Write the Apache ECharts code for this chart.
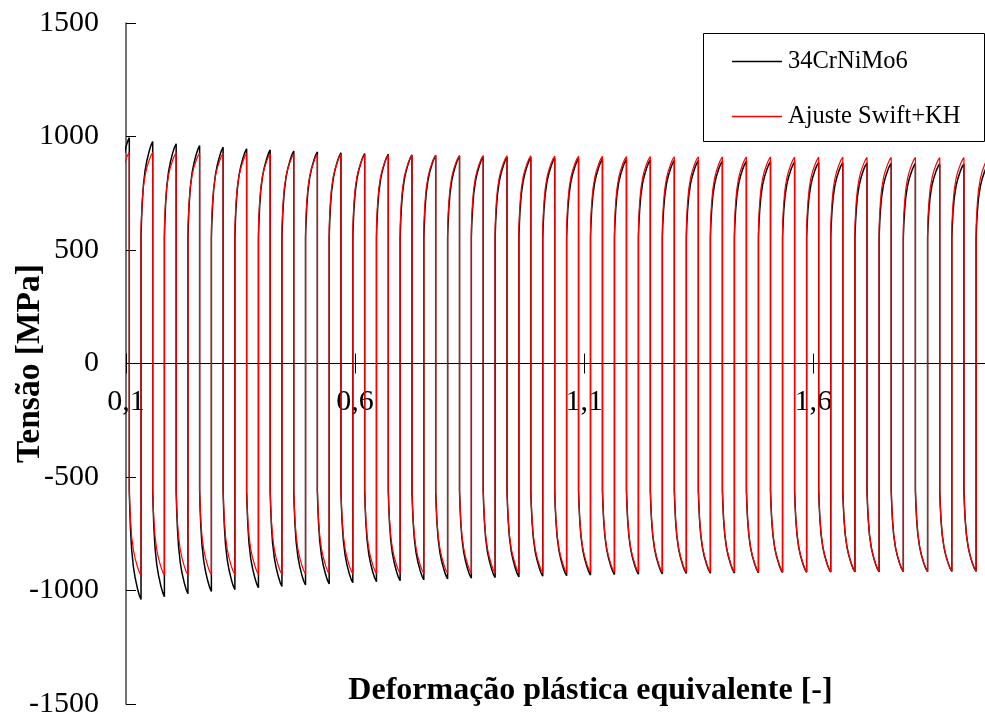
<!DOCTYPE html>
<html>
<head>
<meta charset="utf-8">
<title>Tensão vs deformação plástica equivalente</title>
<script src="https://cdn.jsdelivr.net/npm/echarts@6.0.0/dist/echarts.min.js"></script>
<style>
  html, body { margin: 0; padding: 0; background: #fff; }
  #chart { width: 985px; height: 717px; }
</style>
</head>
<body>
<div id="chart"></div>
<script>
// Series names (legend)
const seriesNames = ['34CrNiMo6', 'Ajuste Swift+KH'];

// Axis ticks
const xTicks = [0.1, 0.6, 1.1, 1.6];
const yTicks = [-1500, -1000, -500, 0, 500, 1000, 1500];

// Accumulated plastic strain at each load reversal (valley, peak, valley, peak, ...)
const reversalStrain = [
  0.0817, 0.1072, 0.1328, 0.1583, 0.1838, 0.2095, 0.2352, 0.2607, 0.2864, 0.3120,
  0.3377, 0.3633, 0.3891, 0.4147, 0.4404, 0.4662, 0.4919, 0.5177, 0.5435, 0.5692,
  0.5951, 0.6210, 0.6467, 0.6725, 0.6984, 0.7242, 0.7501, 0.7760, 0.8020, 0.8280,
  0.8538, 0.8797, 0.9057, 0.9317, 0.9576, 0.9836, 1.0097, 1.0358, 1.0618, 1.0878,
  1.1139, 1.1400, 1.1662, 1.1924, 1.2185, 1.2445, 1.2707, 1.2969, 1.3231, 1.3493,
  1.3756, 1.4018, 1.4280, 1.4542, 1.4805, 1.5068, 1.5331, 1.5594, 1.5857, 1.6120,
  1.6383, 1.6646, 1.6911, 1.7175, 1.7439, 1.7703, 1.7967, 1.8231, 1.8497, 1.8762,
  1.9026, 1.9290, 1.9556, 1.9821
];

// 34CrNiMo6 measured: tensile peaks and compressive valleys per cycle [MPa]
const testPeak = [
  995, 978, 968, 960, 953, 946, 941, 936, 932, 928,
  925, 922, 919, 916, 913, 911, 909, 907, 905, 903,
  901, 899, 897, 895, 894, 892, 891, 889, 888, 886,
  885, 884, 882, 881, 880, 879, 878
];
const testValley = [
  -1050, -1040, -1027, -1014, -1004, -996, -988, -982, -976, -971,
  -966, -961, -957, -953, -949, -946, -943, -940, -937, -935,
  -932, -930, -928, -927, -925, -924, -923, -922, -921, -920,
  -919, -918, -918, -917, -917, -916, -916
];
// Stress where plastic flow resumes after each reversal [MPa]
const testYieldUp = 555;
const testYieldDown = -560;

// Swift + kinematic hardening fit: peaks and valleys per cycle [MPa]
const fitPeak = [
  930, 929, 928, 927, 926, 925, 924, 923, 922, 921,
  920, 919, 918, 918, 917, 916, 915, 915, 914, 913,
  913, 912, 912, 911, 911, 910, 910, 910, 909, 909,
  909, 908, 908, 908, 907, 907, 907
];
const fitValley = [
  -935, -934, -933, -932, -931, -930, -929, -929, -928, -927,
  -927, -926, -925, -925, -924, -924, -923, -923, -922, -922,
  -921, -921, -920, -920, -920, -919, -919, -919, -918, -918,
  -918, -917, -917, -917, -916, -916, -916
];
const fitYieldUp = 600;
const fitYieldDown = -560;

// Shape of a plastic branch: fraction of the half-cycle strain vs fraction of the stress rise
const branchStrain = [0, 0.04, 0.1, 0.2, 0.35, 0.5, 0.7, 0.85, 1];
const branchStress = [0, 0.17, 0.35, 0.54, 0.70, 0.80, 0.90, 0.96, 1];

function buildLoops(peaks, valleys, yieldUp, yieldDown) {
  const pts = [];
  const extreme = j => (j % 2 === 0 ? valleys[j / 2] : peaks[(j - 1) / 2]);
  for (let j = 0; j < reversalStrain.length - 1; j++) {
    const x0 = reversalStrain[j], x1 = reversalStrain[j + 1];
    const y0 = extreme(j), y1 = extreme(j + 1);
    const start = j % 2 === 0 ? yieldUp : yieldDown;
    pts.push([x0, y0]);            // elastic unloading: vertical in plastic strain
    pts.push([x0, start]);
    for (let k = 1; k < branchStrain.length; k++) {
      pts.push([x0 + branchStrain[k] * (x1 - x0), start + branchStress[k] * (y1 - start)]);
    }
  }
  return pts;
}

const testData = buildLoops(testPeak, testValley, testYieldUp, testYieldDown);
const fitData = buildLoops(fitPeak, fitValley, fitYieldUp, fitYieldDown);

const serif = '"Liberation Serif", "Times New Roman", serif';
const gridTop = 23, gridBottom = 13, chartH = 717;
// distance from the plot's lower/upper edge to the stress = 0 line
const zeroShift = (chartH - gridTop - gridBottom) / 2;

const chart = echarts.init(document.getElementById('chart'), null, { renderer: 'canvas' });

chart.setOption({
  animation: false,
  backgroundColor: '#ffffff',
  grid: { left: 126, right: 0, top: gridTop, bottom: gridBottom, containLabel: false, outerBoundsMode: 'none' },
  legend: {
    orient: 'vertical',
    left: 732,
    top: 49,
    padding: 0,
    icon: 'rect',
    itemWidth: 50,
    itemHeight: 1.3,
    itemGap: 30,
    data: seriesNames,
    textStyle: { fontFamily: serif, fontSize: 24.5, color: '#000', padding: [0, 0, 0, 1] }
  },
  graphic: [{
    type: 'rect',
    shape: { x: 703.5, y: 33.5, width: 281, height: 108 },
    style: { fill: 'none', stroke: '#000', lineWidth: 1 },
    z: 10
  }],
  xAxis: [{
    type: 'value',
    min: 0.1,
    max: 1.975,
    position: 'bottom',
    offset: -zeroShift,
    axisLine: { onZero: false, lineStyle: { color: '#000', width: 1 } },
    axisTick: { show: true, inside: false, length: 10, customValues: xTicks, lineStyle: { color: '#000' } },
    axisLabel: {
      customValues: xTicks,
      margin: 24,
      fontFamily: serif, fontSize: 30, color: '#000',
      formatter: v => String(v).replace('.', ',')
    },
    splitLine: { show: false },
    name: 'Deformação plástica equivalente [-]',
    nameLocation: 'middle',
    nameGap: 311,
    nameMoveOverlap: false,
    nameTextStyle: { fontFamily: serif, fontSize: 32, fontWeight: 'bold', color: '#000', padding: [0, 0, 0, 70] }
  }, {
    type: 'value',
    min: 0.1,
    max: 1.975,
    position: 'top',
    offset: -zeroShift,
    axisLine: { show: false, onZero: false },
    axisTick: { show: true, inside: false, length: 10, customValues: xTicks, lineStyle: { color: '#000' } },
    axisLabel: { show: false },
    splitLine: { show: false }
  }],
  yAxis: {
    type: 'value',
    min: -1500,
    max: 1500,
    interval: 500,
    axisLine: { show: true, onZero: false, lineStyle: { color: '#444', width: 1.5 } },
    axisTick: { show: true, inside: true, length: 10, lineStyle: { color: '#000' } },
    axisLabel: {
      margin: 27, fontFamily: serif, fontSize: 30, color: '#000', customValues: yTicks,
      formatter: v => String(v)
    },
    splitLine: { show: false },
    name: 'Tensão [MPa]',
    nameLocation: 'middle',
    nameGap: 79,
    nameMoveOverlap: false,
    nameTextStyle: { fontFamily: serif, fontSize: 33.5, fontWeight: 'bold', color: '#000' }
  },
  series: [{
    name: seriesNames[0],
    type: 'line',
    data: testData,
    symbol: 'none',
    clip: true,
    lineStyle: { color: '#000', width: 1.5 },
    itemStyle: { color: '#000' },
    z: 2
  }, {
    name: seriesNames[1],
    type: 'line',
    data: fitData,
    symbol: 'none',
    clip: true,
    lineStyle: { color: '#ff0000', width: 1.2 },
    itemStyle: { color: '#ff0000' },
    z: 3
  }]
});
</script>
</body>
</html>
